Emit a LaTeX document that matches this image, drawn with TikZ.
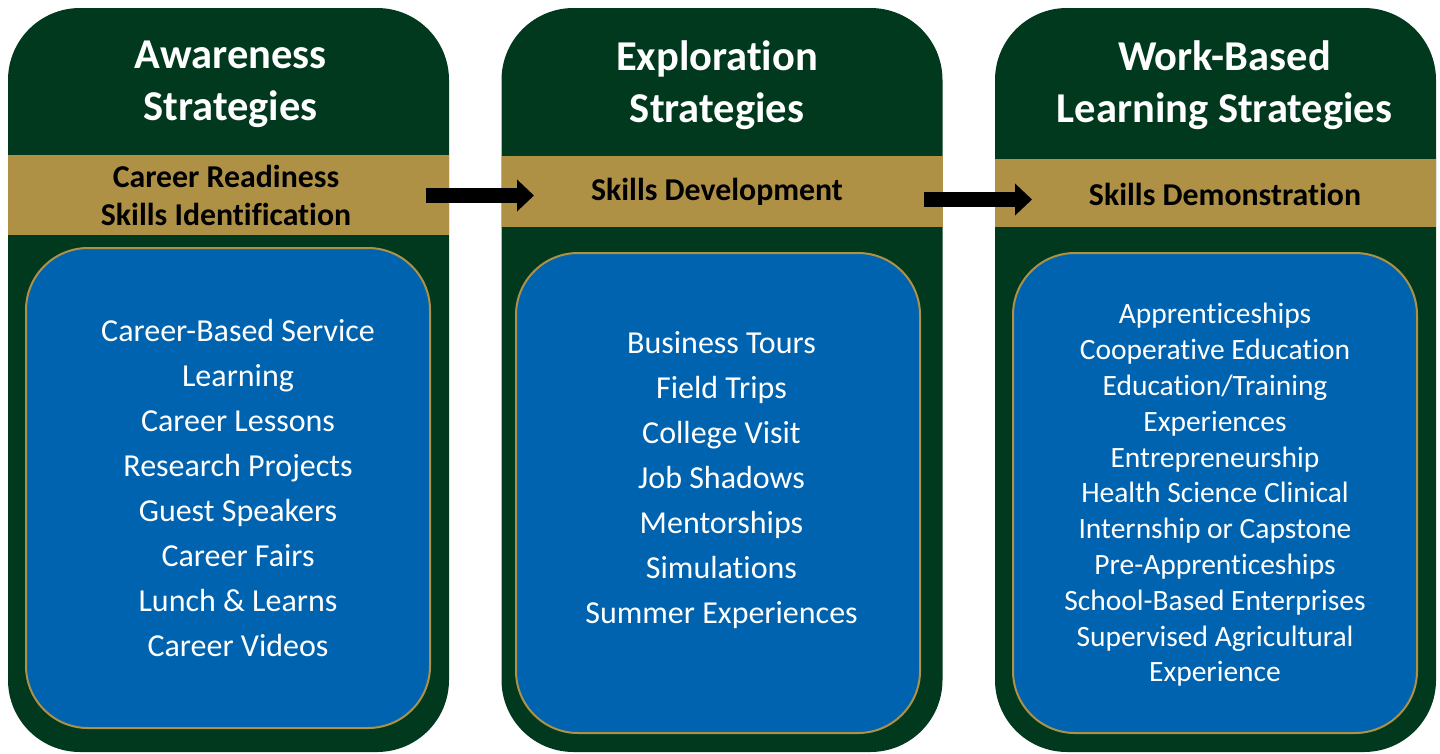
\documentclass[tikz,border=0pt]{standalone}
\usepackage{fontspec}
\setmainfont[Ligatures=NoCommon]{Carlito}
\usetikzlibrary{arrows.meta}
\definecolor{pgreen}{RGB}{0,57,30}
\definecolor{pgold}{RGB}{175,145,70}
\definecolor{pblue}{RGB}{0,99,175}
\tikzset{
  panel/.style={fill=pgreen,draw=none,rounded corners=72pt,minimum width=441pt,minimum height=744pt,inner sep=0pt},
  band/.style={fill=pgold,draw=none,inner sep=0pt,minimum width=441pt},
  itembox/.style={fill=pblue,draw=pgold,line width=2pt,rounded corners=62pt,minimum width=404pt,minimum height=480pt,inner sep=0pt},
  title/.style={text=white,align=center,font=\fontsize{42.5}{52}\selectfont\bfseries},
  bandtext/.style={text=black,align=center,font=\fontsize{31.8}{38}\selectfont\bfseries},
  items/.style={text=white,align=center,font=\fontsize{32}{45}\selectfont},
  smallitems/.style={text=white,align=center,font=\fontsize{29.5}{35.8}\selectfont},
  blockarrow/.style={draw=black,line width=15pt,-{Triangle[length=17pt,width=31pt]}}
}
\begin{document}
\begin{tikzpicture}[x=1pt,y=-1pt]
\useasboundingbox (0,0) rectangle (1440,753);
% panels
\node[panel] (p1) at (228.5,380) {};
\node[panel] (p2) at (722,380) {};
\node[panel] (p3) at (1215.5,380) {};
% bands
\node[band,minimum height=80pt] (b1) at (228.5,195) {};
\node[band,minimum height=71pt] (b2) at (722,191.5) {};
\node[band,minimum height=68pt] (b3) at (1215.5,193) {};
% item boxes
\node[itembox] (i1) at (228,488) {};
\node[itembox] (i2) at (718,493) {};
\node[itembox] (i3) at (1215,493) {};
% titles
\node[title] (t1) at (230.5,84) {Awareness\\Strategies};
\node[title] (t2) at (717,85) {Exploration\\Strategies};
\node[title] (t3) at (1224.5,85) {Work-Based\\Learning Strategies};
% band texts
\node[bandtext] (bt1) at (226,195) {Career Readiness\\Skills Identification};
\node[bandtext] (bt2) at (717,192) {Skills Development};
\node[bandtext] (bt3) at (1225,194) {Skills Demonstration};
% items
\node[items] (l1) at (238,488) {Career-Based Service\\Learning\\Career Lessons\\Research Projects\\Guest Speakers\\Career Fairs\\Lunch \& Learns\\Career Videos};
\node[items] (l2) at (721.5,480) {Business Tours\\Field Trips\\College Visit\\Job Shadows\\Mentorships\\Simulations\\Summer Experiences};
\node[smallitems] (l3) at (1215,495) {Apprenticeships\\Cooperative Education\\Education/Training\\Experiences\\Entrepreneurship\\Health Science Clinical\\Internship or Capstone\\Pre-Apprenticeships\\School-Based Enterprises\\Supervised Agricultural\\Experience};
% arrows
\coordinate (a1s) at (426,195.5);
\coordinate (a1e) at (534,195.5);
\coordinate (a2s) at (924,199.5);
\coordinate (a2e) at (1032,199.5);
\draw[blockarrow] (a1s) -- (a1e);
\draw[blockarrow] (a2s) -- (a2e);
\end{tikzpicture}
\end{document}
